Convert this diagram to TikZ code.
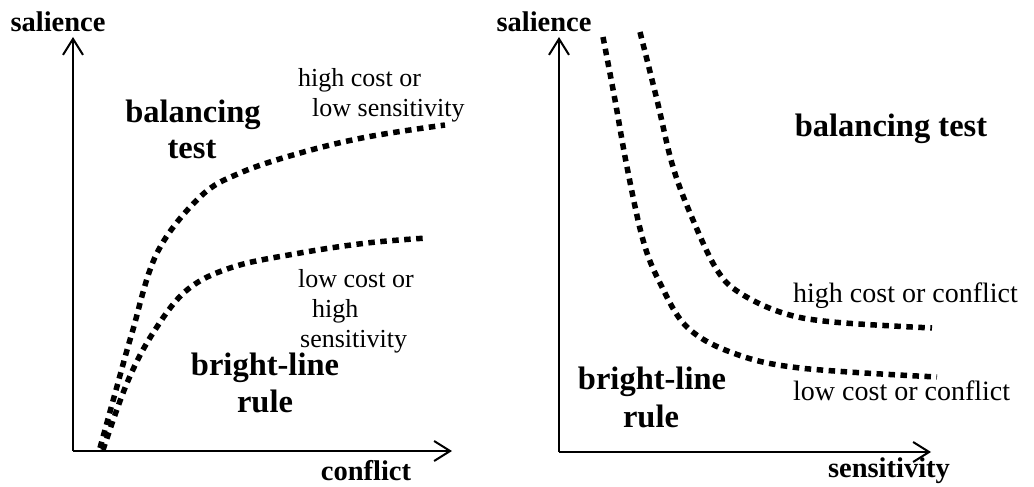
\documentclass[tikz,border=0pt]{standalone}
\usepackage{fontspec}
\setmainfont{Liberation Serif}
\usetikzlibrary{arrows.meta}
\begin{document}
\begin{tikzpicture}[x=1pt,y=-1pt,
 axis/.style={line width=2pt, -{Straight Barb[length=16pt,width=20pt]}},
 curve/.style={line width=5.5pt, dash pattern=on 6.5pt off 5.5pt},
 axlabel/.style={font=\fontsize{28.5}{32}\selectfont\bfseries, inner sep=0pt, anchor=base},
 region/.style={font=\fontsize{32.5}{37}\selectfont\bfseries, inner sep=0pt, anchor=base},
 labl/.style={font=\fontsize{26}{30}\selectfont, inner sep=0pt, anchor=base west},
 labr/.style={font=\fontsize{28}{30}\selectfont, inner sep=0pt, anchor=base west}]
\useasboundingbox (0,0) rectangle (1034,487);
% left plot
\coordinate (lo) at (73,451);
\coordinate (ly) at (73,37);
\coordinate (lx) at (452,451);
\draw[axis] (lo) -- (ly);
\draw[axis] (lo) -- (lx);
\draw[curve] plot[smooth, tension=0.6] coordinates {(100,448) (116,390) (132,333) (157,253) (200,197) (240,173) (300,153) (367,137) (445,125)};
\draw[curve] plot[smooth, tension=0.6] coordinates {(103,450) (127,383) (153,333) (187,290) (233,267) (300,253) (367,243) (427,238)};
\node[axlabel] (lsal) at (58,32) {salience};
\node[axlabel] (lconf) at (366,480) {conflict};
\node[region] (lbal1) at (193,122) {balancing};
\node[region] (lbal2) at (192,158) {test};
\node[region] (lbr1) at (265,375) {bright-line};
\node[region] (lbr2) at (265,412) {rule};
\node[labl] (lh1) at (298,87) {high cost or};
\node[labl] (lh2) at (312,117) {low sensitivity};
\node[labl] (ll1) at (298,287) {low cost or};
\node[labl] (ll2) at (312,317) {high};
\node[labl] (ll3) at (300,347) {sensitivity};
% right plot
\coordinate (ro) at (559,452);
\coordinate (ry) at (559,37);
\coordinate (rx) at (931,452);
\draw[axis] (ro) -- (ry);
\draw[axis] (ro) -- (rx);
\draw[curve] plot[smooth, tension=0.6] coordinates {(640,32) (657,100) (673,167) (693,220) (717,270) (740,293) (783,313) (833,322) (932,328)};
\draw[curve] plot[smooth, tension=0.6] coordinates {(603,37) (615,100) (627,167) (643,240) (660,283) (687,327) (733,353) (800,368) (937,377)};
\node[axlabel] (rsal) at (544,32) {salience};
\node[axlabel] (rsens) at (889,477) {sensitivity};
\node[region] (rbal) at (891,136) {balancing test};
\node[region] (rbr1) at (652,389) {bright-line};
\node[region] (rbr2) at (651,427) {rule};
\node[labr] (rh) at (793,302) {high cost or conflict};
\node[labr] (rl) at (793,400) {low cost or conflict};
\end{tikzpicture}
\end{document}
